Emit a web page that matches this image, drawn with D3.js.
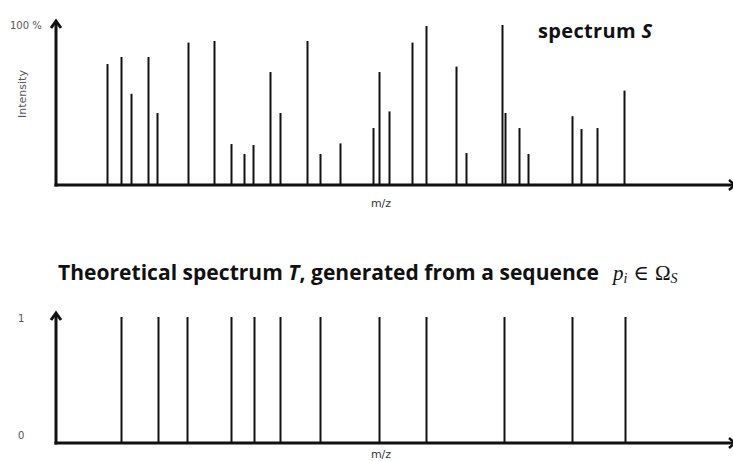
<!DOCTYPE html>
<html>
<head>
<meta charset="utf-8">
<script src="https://cdn.jsdelivr.net/npm/d3@7"></script>
<style>
  body { margin: 0; background: #fff; }
  svg { display: block; }
</style>
</head>
<body>
<svg id="graph"></svg>
<script>
var width = 733, height = 461;

// observed spectrum S: m/z position (arbitrary units) and intensity (%)
var obsMz = [51, 65, 75, 92, 101, 132, 158, 175, 188, 197, 214, 224, 251, 264, 284,
             317, 323, 333, 356, 370, 400, 410, 446, 449, 463, 472, 516, 525, 541, 568];
var obsInt = [75.6, 80, 57, 80, 45, 89, 90, 25.6, 19.4, 25, 70.6, 45, 90, 19.4, 26,
              35.6, 70.6, 46, 89, 99.4, 74, 20, 100, 45, 35.6, 19.4, 43, 35, 35.6, 59];

// theoretical spectrum T: all peaks at intensity 1
var theoMz = [65, 102, 131, 175, 198, 224, 264, 323, 370, 448, 516, 569];
var theoInt = [1, 1, 1, 1, 1, 1, 1, 1, 1, 1, 1, 1];

var topTicks = ["100 %"];
var botTicks = ["0", "1"];

var svg = d3.select("#graph")
    .attr("width", width)
    .attr("height", height);

var x = d3.scaleLinear().domain([0, 680]).range([56, 736]);
var yTop = d3.scaleLinear().domain([0, 100]).range([185, 25]);
var yBot = d3.scaleLinear().domain([0, 1]).range([443, 317]);

var ink = "#111";

function arrowUp(g, ax, tip, base) {
    g.append("line")
        .attr("x1", ax).attr("y1", base + 1.5)
        .attr("x2", ax).attr("y2", tip + 1)
        .attr("stroke", ink).attr("stroke-width", 3);
    g.append("path")
        .attr("d", "M" + (ax - 5) + "," + (tip + 7) + "L" + ax + "," + tip + "L" + (ax + 5) + "," + (tip + 7))
        .attr("fill", "none")
        .attr("stroke", ink)
        .attr("stroke-width", 3);
}

function panel(yScale, mz, inten, tip) {
    var g = svg.append("g");
    var base = yScale(0);
    g.selectAll(".peak")
        .data(mz)
        .enter()
        .append("line")
        .attr("class", "peak")
        .attr("x1", d => Math.round(x(d)) + 0.5)
        .attr("x2", d => Math.round(x(d)) + 0.5)
        .attr("y1", base)
        .attr("y2", (d, i) => yScale(inten[i]))
        .attr("stroke", ink)
        .attr("stroke-width", 2);
    // x axis
    g.append("line")
        .attr("x1", x(0) - 1.5).attr("y1", base)
        .attr("x2", width + 2).attr("y2", base)
        .attr("stroke", ink).attr("stroke-width", 3);
    g.append("path")
        .attr("d", "M" + (width - 4) + "," + (base - 5) + "L" + (width + 2) + "," + base + "L" + (width - 4) + "," + (base + 5))
        .attr("fill", "none")
        .attr("stroke", ink)
        .attr("stroke-width", 2.5);
    arrowUp(g, x(0), tip, base);
    return g;
}

var gTop = panel(yTop, obsMz, obsInt, 21);
var gBot = panel(yBot, theoMz, theoInt, 313);

var small = "'DejaVu Sans', Verdana, sans-serif";
var grey = "#555";

gTop.append("text")
    .attr("x", 10).attr("y", 29)
    .attr("font-family", small).attr("font-size", "10px")
    .attr("fill", grey)
    .text(topTicks[0]);

gTop.append("text")
    .attr("transform", "translate(26,94) rotate(-90)")
    .attr("text-anchor", "middle")
    .attr("font-family", small).attr("font-size", "11px")
    .attr("fill", grey)
    .text("Intensity");

gTop.append("text")
    .attr("x", 381).attr("y", 207)
    .attr("text-anchor", "middle")
    .attr("font-family", small).attr("font-size", "11px")
    .attr("fill", "#333")
    .text("m/z");

gBot.append("text")
    .attr("x", 381).attr("y", 458)
    .attr("text-anchor", "middle")
    .attr("font-family", small).attr("font-size", "11px")
    .attr("fill", "#333")
    .text("m/z");

gBot.selectAll(".tick")
    .data(botTicks)
    .enter()
    .append("text")
    .attr("class", "tick")
    .attr("x", 18)
    .attr("y", d => yBot(+d) + (d == "1" ? 5 : -4))
    .attr("font-family", small).attr("font-size", "10px")
    .attr("fill", grey)
    .text(d => d);

// titles
var bold = "'Open Sans', 'Noto Sans', sans-serif";

var t1 = svg.append("text")
    .attr("x", 538).attr("y", 38)
    .attr("font-family", bold).attr("font-size", "20px")
    .attr("font-weight", "bold")
    .attr("textLength", 114)
    .attr("lengthAdjust", "spacing")
    .attr("fill", ink);
t1.append("tspan").text("spectrum ");
t1.append("tspan").attr("font-style", "italic").text("S");

var t2 = svg.append("text")
    .attr("x", 58).attr("y", 280)
    .attr("font-family", bold).attr("font-size", "21px")
    .attr("font-weight", "bold")
    .attr("textLength", 541)
    .attr("lengthAdjust", "spacing")
    .attr("fill", ink);
t2.append("tspan").text("Theoretical spectrum ");
t2.append("tspan").attr("font-style", "italic").text("T");
t2.append("tspan").text(", generated from a sequence");

var serif = "'Liberation Serif', 'DejaVu Serif', serif";
var m = svg.append("text")
    .attr("x", 613).attr("y", 280)
    .attr("font-family", serif).attr("font-size", "21px")
    .attr("fill", ink);
m.append("tspan").attr("font-style", "italic").text("p");
m.append("tspan").attr("font-style", "italic").attr("font-size", "14px").attr("dy", 3).text("i");
m.append("tspan").attr("dy", -3).attr("dx", 6).text("∈");
m.append("tspan").attr("dx", 6).text("Ω");
m.append("tspan").attr("font-style", "italic").attr("font-size", "14px").attr("dy", 3).text("S");
</script>
</body>
</html>
